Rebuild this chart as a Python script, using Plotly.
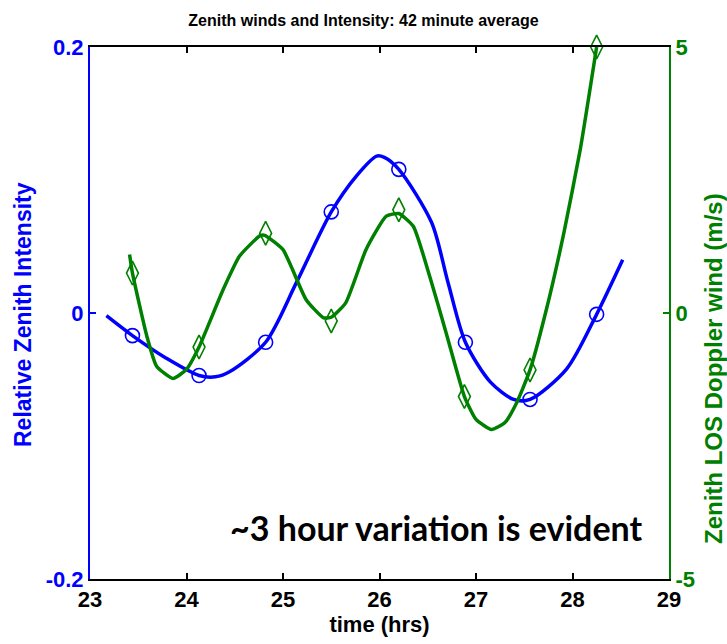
import plotly.graph_objects as go

# Blue: relative zenith intensity (left axis), curve
blue_t = [23.17, 23.44, 23.79, 24.13, 24.30, 24.45, 24.82, 25.14, 25.50, 25.76, 25.97, 26.05, 26.20,
          26.54, 26.71, 26.89, 27.15, 27.39, 27.56, 27.94, 28.25, 28.52]
blue_v = [-0.002, -0.017, -0.034, -0.047, -0.048, -0.044, -0.022, 0.023, 0.076, 0.103, 0.118, 0.117, 0.108,
          0.068, 0.023, -0.022, -0.052, -0.065, -0.065, -0.042, -0.001, 0.040]
# Blue markers (42 minute samples)
blue_mt = [23.44, 24.13, 24.82, 25.50, 26.20, 26.89, 27.56, 28.25]
blue_mv = [-0.017, -0.047, -0.022, 0.076, 0.108, -0.022, -0.065, -0.001]

# Green: zenith LOS Doppler wind (right axis)
green_t = [23.41, 23.44, 23.59, 23.69, 23.86, 24.00, 24.13, 24.38, 24.55, 24.76, 24.81, 25.00, 25.24,
           25.42, 25.50, 25.65, 25.86, 26.07, 26.20, 26.35, 26.52, 26.69, 26.88, 27.00, 27.16, 27.30,
           27.42, 27.56, 27.73, 27.91, 28.08, 28.25]
green_v = [1.10, 0.75, -0.44, -1.00, -1.23, -1.06, -0.64, 0.44, 1.07, 1.45, 1.46, 1.19, 0.25,
           -0.09, -0.08, 0.19, 1.19, 1.82, 1.87, 1.63, 0.69, -0.37, -1.57, -2.00, -2.19, -2.06,
           -1.69, -1.07, 0.07, 1.50, 3.07, 5.00]
green_mt = [23.44, 24.13, 24.82, 25.50, 26.20, 26.88, 27.56, 28.25]
green_mv = [0.75, -0.64, 1.50, -0.15, 1.94, -1.57, -1.07, 5.00]

x_ticks = [23, 24, 25, 26, 27, 28, 29]
y1_ticks = [-0.2, 0, 0.2]
y1_text = ["-0.2", "0", "0.2"]
y2_ticks = [-5, 0, 5]
y2_text = ["-5", "0", "5"]

BLUE = "#0000ff"
GREEN = "#008000"
SANS = "Liberation Sans, Arial"

W, H = 727, 644
L, R, T, B = 90, 58, 47, 65
PW, PH = W - L - R, H - T - B

def px_to_paper_x(px):
    return (px - L) / PW

def px_to_paper_y(py):
    return (H - B - py) / PH

fig = go.Figure()
fig.add_trace(go.Scatter(x=blue_t, y=blue_v, mode="lines", line=dict(color=BLUE, width=3.5, shape="spline", smoothing=0.8),
                         yaxis="y", showlegend=False, hoverinfo="skip"))
fig.add_trace(go.Scatter(x=blue_mt, y=blue_mv, mode="markers",
                         marker=dict(symbol="circle-open", size=14, color=BLUE, line=dict(width=1.6, color=BLUE)),
                         yaxis="y", showlegend=False))
fig.add_trace(go.Scatter(x=green_t, y=green_v, mode="lines", line=dict(color=GREEN, width=3.5, shape="spline", smoothing=0.5),
                         yaxis="y2", showlegend=False, hoverinfo="skip"))
fig.add_trace(go.Scatter(x=green_mt, y=green_mv, mode="markers",
                         marker=dict(symbol="diamond-tall-open", size=17, color=GREEN, line=dict(width=1.6, color=GREEN)),
                         yaxis="y2", showlegend=False, cliponaxis=False))

fig.update_layout(
    width=W, height=H, autosize=False,
    margin=dict(l=L, r=R, t=T, b=B),
    plot_bgcolor="white", paper_bgcolor="white",
    title=dict(text="<b>Zenith winds and Intensity: 42 minute average</b>", x=0.5, xref="container",
               y=1 - 20 / H, yref="container", yanchor="middle", xanchor="center",
               font=dict(family=SANS, size=16, color="black")),
    xaxis=dict(range=[23, 29], tickvals=x_ticks, ticktext=[f"<b>{v}</b>" for v in x_ticks],
               ticks="inside", ticklen=6, tickwidth=1.5, tickcolor="black",
               showline=True, linecolor="black", linewidth=2, mirror="ticks",
               showgrid=False, zeroline=False,
               tickfont=dict(family=SANS, size=22, color="black"),
               title=dict(text="<b>time (hrs)</b>", font=dict(family=SANS, size=22, color="black"), standoff=2)),
    yaxis=dict(range=[-0.2, 0.2], tickvals=y1_ticks, ticktext=[f"<b>{t}</b>" for t in y1_text],
               ticks="inside", ticklen=6, tickwidth=1.5, tickcolor=BLUE,
               showline=True, linecolor=BLUE, linewidth=2, showgrid=False, zeroline=False,
               tickfont=dict(family=SANS, size=22, color=BLUE)),
    yaxis2=dict(range=[-5, 5], tickvals=y2_ticks, ticktext=[f"<b>{t}</b>" for t in y2_text],
                overlaying="y", side="right", anchor="x",
                ticks="inside", ticklen=6, tickwidth=1.5, tickcolor=GREEN,
                showline=True, linecolor=GREEN, linewidth=2, showgrid=False, zeroline=False,
                tickfont=dict(family=SANS, size=22, color=GREEN)),
    annotations=[
        dict(text="<b>~3 hour variation is evident</b>", x=px_to_paper_x(436), y=px_to_paper_y(527),
             xref="paper", yref="paper", xanchor="center", yanchor="middle", showarrow=False,
             font=dict(family="Lato, Open Sans", size=34, color="black")),
        dict(text="<b>Relative Zenith Intensity</b>", x=px_to_paper_x(23), y=px_to_paper_y(315),
             xref="paper", yref="paper", xanchor="center", yanchor="middle", showarrow=False, textangle=-90,
             font=dict(family=SANS, size=23, color=BLUE)),
        dict(text="<b>Zenith LOS Doppler wind (m/s)</b>", x=px_to_paper_x(713), y=px_to_paper_y(369),
             xref="paper", yref="paper", xanchor="center", yanchor="middle", showarrow=False, textangle=-90,
             font=dict(family=SANS, size=24, color=GREEN)),
    ],
)

fig.write_html("out.html")
